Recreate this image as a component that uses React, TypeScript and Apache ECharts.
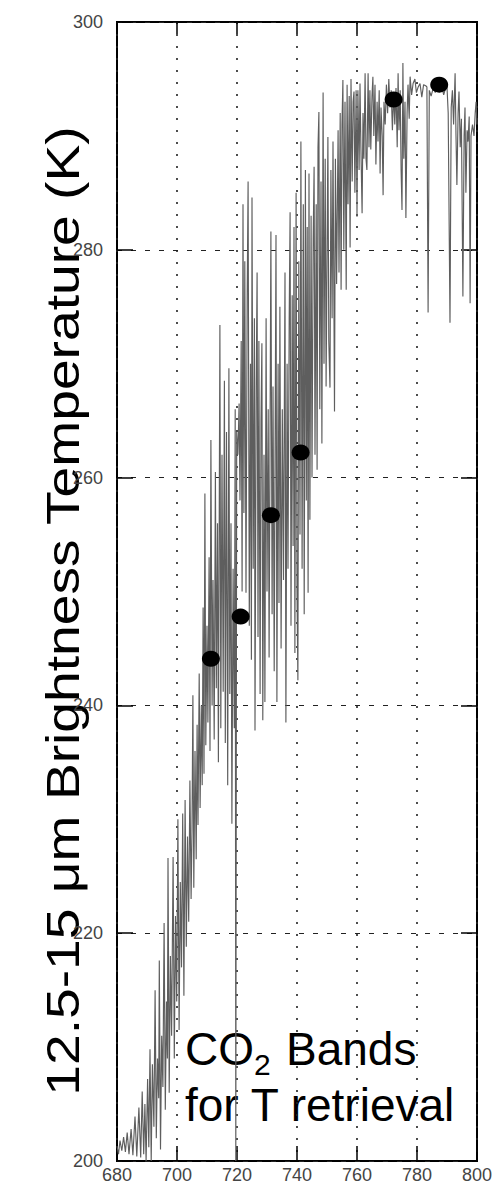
import React, { useEffect, useRef } from "react";
import * as echarts from "echarts";

// x-axis ticks (wavenumber, cm-1) and y-axis ticks (K)
const xTicks = [680, 700, 720, 740, 760, 780, 800];
const yTicks = [200, 220, 240, 260, 280, 300];

// Retrieval channels (black dots)
const channelWavenumbers = [711.3, 721.2, 731.3, 741.2, 772.2, 787.4];
const channelTb = [244.1, 247.8, 256.7, 262.2, 293.2, 294.5];

// Brightness temperature spectrum [wavenumber, Tb]
const spectrumA: [number, number][] = [
  [680.0, 201.3], [680.5, 200.6], [681.0, 201.8], [681.6, 200.9], [682.2, 202.1], [682.8, 200.8],
  [683.4, 202.5], [684.0, 200.6], [684.7, 202.8], [685.3, 200.5], [686.0, 203.9], [686.6, 200.4],
  [687.3, 204.7], [687.9, 200.3], [688.4, 206.1], [688.9, 200.6], [689.3, 205.0], [689.7, 200.0],
  [690.2, 207.2], [690.6, 201.2], [691.0, 209.8], [691.4, 200.0], [691.8, 208.5], [692.3, 203.0],
];
const spectrumB: [number, number][] = [
  [692.7, 215.0], [693.1, 202.0], [693.5, 209.0], [693.9, 205.5], [694.1, 217.6], [694.5, 201.0],
  [694.9, 211.0], [695.3, 206.5], [695.7, 220.9], [696.1, 204.5], [696.5, 214.0], [696.8, 209.0],
  [697.0, 226.6], [697.4, 206.0], [697.8, 218.0], [698.2, 211.0], [698.7, 226.7], [699.1, 209.0],
  [699.5, 221.5], [699.9, 214.0], [700.3, 230.0], [700.7, 211.5], [701.1, 224.5], [701.5, 217.0],
  [701.9, 230.5], [702.3, 214.5], [702.7, 231.7], [703.1, 218.8], [703.5, 228.5], [703.9, 221.0],
  [704.3, 233.4], [704.7, 223.0], [705.0, 229.0], [705.3, 240.9], [705.6, 224.0],
];
const spectrumC: [number, number][] = [
  [706.0, 236.0], [706.4, 226.5], [706.7, 238.3], [707.0, 229.5], [707.4, 242.8], [707.7, 231.0],
  [708.1, 240.0], [708.4, 233.0], [708.7, 248.6], [709.0, 234.0], [709.3, 258.6], [709.6, 236.5],
  [710.0, 247.0], [710.3, 238.5], [710.7, 253.0], [711.0, 236.0], [711.3, 263.3], [711.7, 240.0],
  [712.0, 251.0], [712.4, 237.0], [712.8, 260.5], [713.1, 241.5], [713.5, 256.0], [713.8, 235.0],
  [714.3, 273.4], [714.6, 238.0], [715.0, 262.0], [715.4, 241.2], [715.8, 268.5], [716.1, 236.7],
  [716.5, 264.0], [716.9, 233.0], [717.3, 269.6], [717.6, 241.0], [718.0, 256.0], [718.3, 229.6],
  [718.7, 252.0], [719.1, 238.0], [719.4, 266.0], [719.6, 200.0], [719.9, 264.0],
];
const spectrumD: [number, number][] = [
  [720.3, 262.0], [720.7, 266.5], [721.0, 258.0], [721.4, 272.0], [721.7, 250.0], [722.0, 284.0],
  [722.3, 256.9], [722.6, 279.0], [723.0, 249.9], [723.4, 276.0], [723.7, 286.0], [724.1, 247.0],
  [724.5, 270.0], [724.8, 244.0], [725.0, 284.6], [725.4, 252.0], [725.8, 274.0], [726.0, 237.8],
  [726.4, 268.0], [726.7, 278.0], [727.0, 246.0], [727.3, 272.0], [727.7, 241.0], [728.0, 265.0],
  [728.3, 271.8], [728.6, 238.7], [729.0, 262.0], [729.3, 240.3], [729.7, 274.0], [730.0, 250.0],
  [730.4, 266.0], [730.7, 244.2], [731.3, 281.6], [731.7, 248.0], [732.0, 268.0], [732.4, 243.0],
  [733.0, 281.3], [733.3, 240.3], [733.7, 270.0], [734.0, 249.0], [734.3, 275.0], [734.7, 245.0],
  [735.1, 266.0], [735.5, 251.0], [736.0, 278.0], [736.3, 238.5], [736.7, 270.0], [737.0, 252.0],
  [737.4, 274.0], [737.7, 283.3], [738.0, 247.0], [738.4, 276.0], [738.7, 254.0], [739.0, 282.0],
  [739.3, 244.6], [739.7, 285.0], [740.0, 250.0], [740.3, 242.2], [740.6, 279.0], [741.0, 255.0],
  [741.3, 289.5], [741.7, 252.0], [742.1, 284.0], [742.4, 248.0], [742.8, 287.0], [743.1, 258.0],
  [743.4, 282.0], [743.7, 249.9], [744.0, 286.7], [744.3, 256.3], [744.7, 283.0], [745.0, 260.0],
];
const spectrumE: [number, number][] = [
  [745.4, 281.0], [745.7, 287.3], [746.0, 262.0], [746.4, 284.0], [746.7, 260.7], [747.0, 289.0],
  [747.3, 292.1], [747.6, 266.0], [748.0, 286.0], [748.3, 263.0], [748.7, 293.8], [749.0, 270.0],
  [749.4, 288.0], [749.7, 268.0], [750.3, 289.9], [750.6, 272.0], [751.0, 267.9], [751.3, 287.0],
  [751.7, 274.0], [752.0, 289.5], [752.3, 275.6], [752.5, 265.8], [752.8, 288.0], [753.2, 277.0],
  [753.7, 290.5], [754.0, 278.0], [754.4, 292.0], [754.7, 276.5], [755.0, 291.0], [755.3, 294.9],
  [755.6, 280.0], [756.0, 293.0], [756.4, 276.5], [756.7, 294.5], [757.0, 284.0], [757.4, 293.5],
  [757.7, 280.2], [758.0, 295.0], [758.4, 286.0], [758.7, 293.0], [759.0, 293.9], [759.3, 285.0],
  [759.7, 294.0], [760.0, 282.9], [760.3, 294.0], [760.7, 287.0], [761.0, 294.6], [761.3, 289.0],
  [761.7, 283.2], [762.0, 292.0], [762.3, 288.0], [762.7, 295.5], [763.0, 288.0], [763.3, 287.0],
];
const spectrumF: [number, number][] = [
  [763.7, 295.5], [764.0, 289.0], [764.3, 294.0], [764.6, 288.8], [765.0, 293.5], [765.3, 295.2],
  [765.6, 290.0], [766.0, 294.5], [766.3, 287.5], [766.7, 293.0], [767.0, 289.5], [767.4, 294.0],
  [767.7, 286.7], [768.0, 292.5], [768.4, 290.0], [768.7, 284.8], [769.0, 293.0], [769.4, 291.0],
  [769.8, 294.5], [770.2, 292.0], [770.6, 295.0], [771.0, 292.5], [771.4, 294.0], [771.8, 290.5],
  [772.2, 293.8], [772.6, 291.0], [773.0, 294.2], [773.4, 289.0], [773.7, 295.5], [774.0, 290.5],
  [774.4, 294.0], [774.7, 287.0], [775.0, 283.5], [775.3, 296.4], [775.6, 288.0], [776.0, 293.0],
  [776.3, 282.8], [776.7, 292.0], [777.0, 294.5], [777.4, 291.5], [777.7, 295.2], [778.2, 293.6],
  [778.7, 294.6], [779.3, 295.0], [779.8, 293.8], [780.4, 294.3], [781.0, 294.6], [781.6, 293.4],
  [782.2, 294.5], [782.9, 294.4], [783.3, 294.3], [783.7, 274.5], [784.1, 294.0], [784.7, 293.5],
  [785.4, 294.2], [786.1, 293.8], [786.8, 294.4], [787.5, 294.6], [788.2, 294.4], [788.9, 293.6],
  [789.5, 294.2], [790.0, 294.3], [790.4, 292.0], [791.0, 273.6], [791.4, 292.5], [791.8, 294.0],
  [792.2, 291.0], [792.7, 295.5], [793.0, 290.0], [793.3, 285.7], [793.7, 292.0], [794.0, 293.9],
  [794.4, 289.0], [794.8, 291.5], [795.3, 275.9], [795.7, 290.0], [796.0, 292.5], [796.3, 285.0],
  [796.7, 290.5], [797.0, 289.5], [797.4, 291.7], [797.7, 275.3], [798.0, 290.0], [798.5, 291.0],
  [799.0, 290.0], [799.4, 292.0], [799.7, 293.0], [800.0, 291.0],
];

const yTitle = "12.5-15 \u03bcm Brightness Temperature (K)";
const FONT = "Liberation Sans, Arial, sans-serif";

export default function App() {
  const ref = useRef<HTMLDivElement>(null);

  useEffect(() => {
    document.body.style.margin = "0";
    if (!ref.current) return;
    const chart = echarts.init(ref.current, null, { renderer: "svg" });
    const spectrum = [...spectrumA, ...spectrumB, ...spectrumC, ...spectrumD, ...spectrumE, ...spectrumF];
    const channels = channelWavenumbers.map((w, i) => [w, channelTb[i]]);
    const labelFont = { fontFamily: FONT, fontSize: 18, color: "#444" };

    const textStyle = (text: string, size: number) => ({
      text,
      fontFamily: FONT,
      fontSize: size,
      fill: "#000",
      align: "left",
      verticalAlign: "middle",
      textAlign: "left",
      textVerticalAlign: "middle",
    });

    chart.setOption({
      animation: false,
      backgroundColor: "#ffffff",
      grid: {
        left: 117,
        right: 19,
        top: 22,
        bottom: 27,
        show: true,
        borderColor: "#000",
        borderWidth: 2,
        backgroundColor: "transparent",
        containLabel: false,
        outerBoundsMode: "none",
      },
      xAxis: [
        {
          type: "value",
          min: xTicks[0],
          max: xTicks[xTicks.length - 1],
          interval: 20,
          position: "bottom",
          axisLine: { show: false },
          axisTick: { show: true, inside: true, length: 15, lineStyle: { color: "#000", width: 1.5 } },
          axisLabel: { ...labelFont, margin: 5 },
          splitLine: { show: true, lineStyle: { type: [2, 10], color: "#222", width: 1.6 } },
        },
        {
          type: "value",
          min: xTicks[0],
          max: xTicks[xTicks.length - 1],
          interval: 20,
          position: "top",
          axisLine: { show: false },
          axisTick: { show: true, inside: true, length: 12, lineStyle: { color: "#000", width: 1.5 } },
          axisLabel: { show: false },
          splitLine: { show: false },
        },
      ],
      yAxis: [
        {
          type: "value",
          min: yTicks[0],
          max: yTicks[yTicks.length - 1],
          interval: 20,
          position: "left",
          axisLine: { show: false },
          axisTick: { show: true, inside: true, length: 16, lineStyle: { color: "#000", width: 1.5 } },
          axisLabel: { ...labelFont, margin: 14, padding: [0, 0, 8, 0] },
          splitLine: { show: true, lineStyle: { type: [5, 9], color: "#222", width: 1.2 } },
        },
        {
          type: "value",
          min: yTicks[0],
          max: yTicks[yTicks.length - 1],
          interval: 20,
          position: "right",
          axisLine: { show: false },
          axisTick: { show: true, inside: true, length: 16, lineStyle: { color: "#000", width: 1.5 } },
          axisLabel: { show: false },
          splitLine: { show: false },
        },
      ],
      series: [
        {
          type: "line",
          xAxisIndex: 0,
          yAxisIndex: 0,
          data: spectrum,
          showSymbol: false,
          symbol: "none",
          clip: true,
          lineStyle: { color: "#5e5e5e", width: 1.15 },
          z: 2,
        },
        {
          type: "scatter",
          xAxisIndex: 0,
          yAxisIndex: 0,
          data: channels,
          symbol: "circle",
          symbolSize: [18, 16],
          itemStyle: { color: "#000", opacity: 1 },
          z: 5,
        },
      ],
      graphic: [
        {
          type: "text",
          x: 63,
          y: 611,
          rotation: Math.PI / 2,
          scaleX: 1.2,
          style: { ...textStyle(yTitle, 46), align: "center", textAlign: "center" },
        },
        { type: "text", x: 185, y: 1049, style: textStyle("CO", 46) },
        { type: "text", x: 254, y: 1064, style: textStyle("2", 30) },
        { type: "text", x: 286, y: 1049, style: textStyle("Bands", 46) },
        { type: "text", x: 185, y: 1105, style: textStyle("for T retrieval", 46) },
      ],
    });

    return () => {
      chart.dispose();
    };
  }, []);

  return <div ref={ref} style={{ width: 496, height: 1188 }} />;
}
